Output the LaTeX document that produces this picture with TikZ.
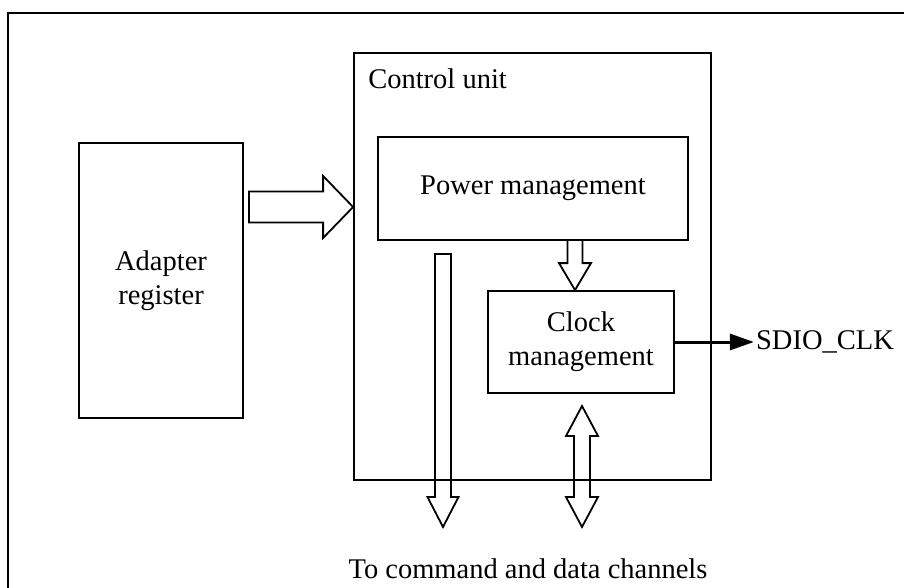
\documentclass[tikz,border=0pt]{standalone}
\usepackage{fontspec}
\setmainfont{Liberation Serif}
\usepackage{tikz}
\usetikzlibrary{arrows.meta,positioning,calc}
\tikzset{
  txt/.style        = {font=\fontsize{28.5}{34}\selectfont, inner sep=2pt, align=center},
  unit box/.style   = {draw, line width=1.8pt, txt},
  frame/.style      = {draw, line width=1.6pt},
  block arr/.style  = {draw, line width=1.8pt, line join=miter},
  sig arr/.style    = {-{Triangle[length=24pt,width=16pt]}, line width=3pt},
}
% block arrow: from, to, shaft half width, head half width, head length
\newcommand{\blockarrow}[5]{%
  \coordinate (ba-h) at ($(#2)!#5!(#1)$);
  \draw[block arr] ($(#1)!#3!90:(#2)$) -- ($(ba-h)!#3!90:(#2)$) -- ($(ba-h)!#4!90:(#2)$)
    -- (#2) -- ($(ba-h)!#4!-90:(#2)$) -- ($(ba-h)!#3!-90:(#2)$) -- ($(#1)!#3!-90:(#2)$) -- cycle;}
% same with a head at both ends
\newcommand{\dblarrow}[5]{%
  \coordinate (da-a) at ($(#1)!#5!(#2)$);
  \coordinate (da-b) at ($(#2)!#5!(#1)$);
  \draw[block arr] (#1) -- ($(da-a)!#4!90:(#2)$) -- ($(da-a)!#3!90:(#2)$) -- ($(da-b)!#3!90:(#2)$)
    -- ($(da-b)!#4!90:(#2)$) -- (#2) -- ($(da-b)!#4!-90:(#2)$) -- ($(da-b)!#3!-90:(#2)$)
    -- ($(da-a)!#3!-90:(#2)$) -- ($(da-a)!#4!-90:(#2)$) -- cycle;}

\begin{document}
\begin{tikzpicture}[x=1pt, y=-1pt]
  \useasboundingbox (0,0) rectangle (904,588);
  \draw[frame] (904,13) -- (8,13) -- (8,588);

  \node[unit box, minimum width=164pt, minimum height=275pt] (reg)  at (161,280.5) {Adapter\\register};
  \node[unit box, minimum width=357pt, minimum height=427pt] (ctrl) at (532.5,266.5) {};
  \node[txt, below right=14pt and 13pt of ctrl.north west] (ctrllbl) {Control unit};
  \node[unit box, minimum width=310pt, minimum height=103pt] (pwr)  at (533,188.5) {Power management};
  \node[unit box, minimum width=186pt, minimum height=102pt] (clk)  at (581,342) {Clock\\management};
  \node[txt, right=79pt of clk] (sdio) {SDIO\_CLK};
  \node[txt] (chan) at (528,569) {To command and data channels};

  \coordinate (ain)   at (249,207);
  \coordinate (pdown) at (575,240);
  \coordinate (cmdtop) at (443,254);
  \coordinate (cmdbot) at (443,527);
  \coordinate (dattop) at (582,406);
  \coordinate (datbot) at (582,527);

  \blockarrow{ain}{ctrl.west |- ain}{15.5pt}{31pt}{30pt}
  \blockarrow{pdown}{pdown |- clk.north}{7.5pt}{16pt}{27pt}
  \blockarrow{cmdtop}{cmdbot}{8pt}{15.5pt}{30pt}
  \dblarrow{dattop}{datbot}{8pt}{16pt}{30pt}

  \draw[sig arr] (clk.east) -- (sdio.west);
\end{tikzpicture}
\end{document}
